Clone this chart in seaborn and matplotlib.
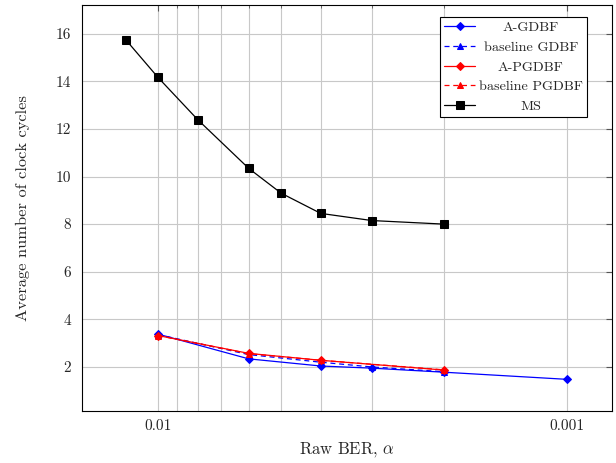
import matplotlib
matplotlib.use("Agg")
import matplotlib.pyplot as plt
import seaborn as sns
import pandas as pd
from matplotlib.ticker import FixedLocator, NullFormatter, FixedFormatter
from matplotlib.transforms import Affine2D

# ---- data ----
ms_ber = [0.012, 0.01, 0.008, 0.006, 0.005, 0.004, 0.003, 0.002]
ms_cycles = [15.75, 14.16, 12.39, 10.34, 9.30, 8.45, 8.15, 8.0]

agdbf_ber = [0.01, 0.006, 0.004, 0.003, 0.002, 0.001]
agdbf_cycles = [3.38, 2.34, 2.04, 1.95, 1.78, 1.48]

bgdbf_ber = [0.01, 0.006, 0.004, 0.003, 0.002]
bgdbf_cycles = [3.36, 2.52, 2.2, 2.0, 1.8]

apgdbf_ber = [0.01, 0.006, 0.004, 0.002]
apgdbf_cycles = [3.32, 2.57, 2.28, 1.87]

bpgdbf_ber = [0.01, 0.006, 0.004, 0.002]
bpgdbf_cycles = [3.32, 2.56, 2.28, 1.88]

x_major = [0.01, 0.001]
x_major_labels = ["0.01", "0.001"]
x_minor = [0.009, 0.008, 0.007, 0.006, 0.005, 0.004, 0.003, 0.002]
y_ticks = [2, 4, 6, 8, 10, 12, 14, 16]

sns.set_style("white")
plt.rcParams["font.family"] = ["cmr10", "DejaVu Serif"]
plt.rcParams["mathtext.fontset"] = "cm"
plt.rcParams["axes.formatter.use_mathtext"] = True

fig = plt.figure(figsize=(6.16, 4.63), dpi=100)
ax = fig.add_axes([0.133, 0.1123, 0.8605, 0.8767])

series = [
    ("A-GDBF", agdbf_ber, agdbf_cycles, "#0000ff", "-", "D", 4.5),
    ("baseline GDBF", bgdbf_ber, bgdbf_cycles, "#0000ff", (0, (4, 3)), "^", 5),
    ("A-PGDBF", apgdbf_ber, apgdbf_cycles, "#ff0000", "-", "D", 4.5),
    ("baseline PGDBF", bpgdbf_ber, bpgdbf_cycles, "#ff0000", (0, (4, 3)), "^", 5),
    ("MS", ms_ber, ms_cycles, "#000000", "-", "s", 6),
]

for name, xs, ys, col, ls, mk, ms in series:
    df = pd.DataFrame({"ber": xs, "cycles": ys})
    sns.lineplot(data=df, x="ber", y="cycles", ax=ax, color=col, linestyle=ls,
                 marker=mk, markersize=ms, markeredgecolor=col, markerfacecolor=col,
                 linewidth=0.9, label=name, sort=False, estimator=None)

ax.set_xscale("log")
ax.set_xlim(0.01535, 0.000776)
ax.set_ylim(0.15, 17.2)

ax.xaxis.set_major_locator(FixedLocator(x_major))
ax.xaxis.set_major_formatter(FixedFormatter(x_major_labels))
ax.xaxis.set_minor_locator(FixedLocator(x_minor))
ax.xaxis.set_minor_formatter(NullFormatter())
ax.set_yticks(y_ticks)
ax.set_yticklabels([str(v) for v in y_ticks])

ax.grid(True, which="major", color="#c8c8c8", linewidth=0.8)
ax.grid(True, which="minor", axis="x", color="#c8c8c8", linewidth=0.8)
ax.set_axisbelow(True)

ax.tick_params(axis="both", which="both", direction="in", top=True, right=True,
               labelsize=11, color="#555555")
ax.tick_params(axis="y", which="major", length=4, pad=8)
ax.tick_params(axis="x", which="major", length=4, pad=6)
ax.tick_params(which="minor", length=2.5)
for s in ax.spines.values():
    s.set_color("black")
    s.set_linewidth(0.8)

ax.set_xlabel(r"Raw BER, $\alpha$", fontsize=12, labelpad=5)
ax.set_ylabel("Average number of clock cycles", fontsize=11.8, labelpad=18)

leg = ax.legend(loc="upper right", bbox_to_anchor=(0.953, 0.970), fontsize=10.2,
                frameon=True, fancybox=False, edgecolor="black", framealpha=1,
                handlelength=2.2, labelspacing=0.47, borderpad=0.3,
                handletextpad=0.25, borderaxespad=0.0, markerscale=0.85)
leg.get_frame().set_linewidth(0.8)

# center legend texts within the text column
fig.canvas.draw()
renderer = fig.canvas.get_renderer()
texts = leg.get_texts()
widths = [t.get_window_extent(renderer).width for t in texts]
maxw = max(widths)
for t, w in zip(texts, widths):
    t.set_transform(t.get_transform() + Affine2D().translate((maxw - w) / 2.0, 0))

fig.savefig("out.png", dpi=100)
